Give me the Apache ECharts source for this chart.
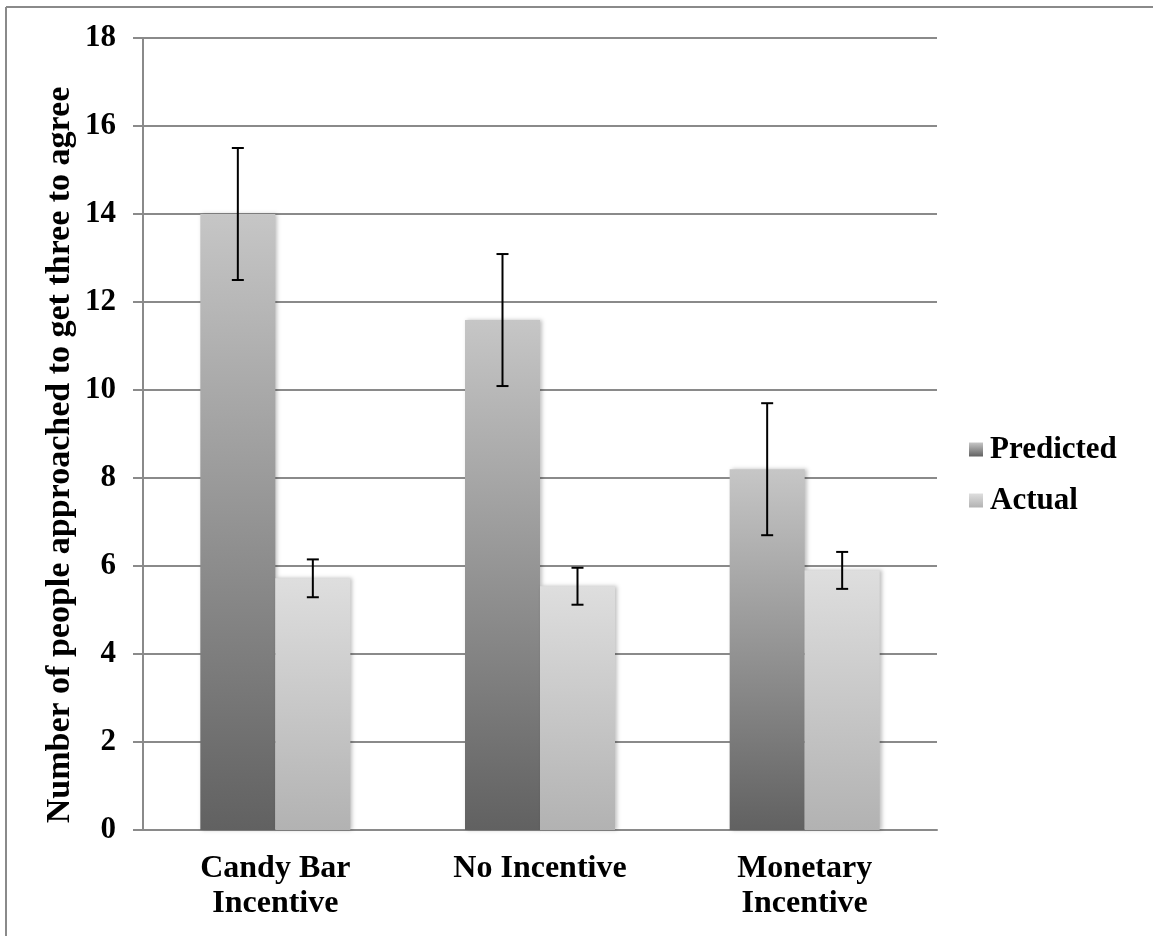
<!DOCTYPE html>
<html>
<head>
<meta charset="utf-8">
<style>
html,body{margin:0;padding:0;background:#fff;}
#chart{width:1153px;height:936px;}
</style>
<script src="https://cdn.jsdelivr.net/npm/echarts@6/dist/echarts.min.js"></script>
</head>
<body>
<div id="chart"></div>
<script>
const categories = ['Candy Bar\nIncentive', 'No Incentive', 'Monetary\nIncentive'];
const predicted = [14.0, 11.59, 8.2];
const predictedErr = [1.5, 1.5, 1.5];
const actual = [5.72, 5.54, 5.9];
const actualErr = [0.43, 0.42, 0.42];
const yTicks = [0, 2, 4, 6, 8, 10, 12, 14, 16, 18];
const yTitle = 'Number of people approached to get three to agree';

const FONT = '"Liberation Serif", "Times New Roman", serif';
const BAR_W = 75;

function errData(vals, errs) {
  return vals.map((v, i) => [i, v - errs[i], v + errs[i]]);
}

function errRender(offset) {
  return function (params, api) {
    const lo = api.coord([api.value(0), api.value(1)]);
    const hi = api.coord([api.value(0), api.value(2)]);
    const x = lo[0] + offset;
    const cap = 6;
    const style = { stroke: '#000', lineWidth: 2 };
    return {
      type: 'group',
      children: [
        { type: 'line', shape: { x1: x, y1: lo[1], x2: x, y2: hi[1] }, style },
        { type: 'line', shape: { x1: x - cap, y1: lo[1], x2: x + cap, y2: lo[1] }, style },
        { type: 'line', shape: { x1: x - cap, y1: hi[1], x2: x + cap, y2: hi[1] }, style }
      ]
    };
  };
}

const chart = echarts.init(document.getElementById('chart'), null, { renderer: 'canvas' });

const gradPred = new echarts.graphic.LinearGradient(0, 0, 0, 1, [
  { offset: 0, color: '#c6c6c6' },
  { offset: 1, color: '#616161' }
]);
const gradAct = new echarts.graphic.LinearGradient(0, 0, 0, 1, [
  { offset: 0, color: '#dedede' },
  { offset: 1, color: '#b2b2b2' }
]);

chart.setOption({
  animation: false,
  backgroundColor: '#fff',
  textStyle: { fontFamily: FONT },
  grid: { left: 143, right: 216, top: 38, bottom: 106, containLabel: false },
  legend: {
    orient: 'vertical',
    left: 964,
    top: 429,
    itemWidth: 14,
    itemHeight: 14,
    itemGap: 20,
    icon: 'rect',
    textStyle: { fontFamily: FONT, fontWeight: 'bold', fontSize: 31, color: '#000', padding: [0, 0, 0, 2] },
    data: ['Predicted', 'Actual']
  },
  xAxis: {
    type: 'category',
    data: categories,
    axisLine: { lineStyle: { color: '#8a8a8a', width: 2 } },
    axisTick: { show: false },
    axisLabel: {
      fontFamily: FONT, fontWeight: 'bold', fontSize: 32, color: '#000',
      lineHeight: 35, margin: 21, interval: 0
    }
  },
  yAxis: {
    type: 'value',
    min: 0,
    max: 18,
    interval: 2,
    axisLine: { show: true, lineStyle: { color: '#8a8a8a', width: 2 } },
    axisTick: { show: true, length: 10, lineStyle: { color: '#8a8a8a', width: 2 } },
    splitLine: { lineStyle: { color: '#8a8a8a', width: 2 } },
    axisLabel: {
      fontFamily: FONT, fontWeight: 'bold', fontSize: 31, color: '#000', margin: 27,
      formatter: v => (yTicks.indexOf(v) >= 0 ? String(v) : '')
    }
  },
  graphic: [
    {
      type: 'text',
      x: 60, y: 455,
      rotation: Math.PI / 2,
      style: {
        text: yTitle,
        fontFamily: FONT, fontWeight: 'bold', fontSize: 34, fill: '#000',
        align: 'center', verticalAlign: 'middle'
      }
    },
    { type: 'line', shape: { x1: 6, y1: 7, x2: 1153, y2: 7 }, style: { stroke: '#8a8a8a', lineWidth: 2 } },
    { type: 'line', shape: { x1: 6, y1: 7, x2: 6, y2: 936 }, style: { stroke: '#8a8a8a', lineWidth: 2 } }
  ],
  series: [
    {
      name: 'Predicted', type: 'bar', data: predicted, barWidth: BAR_W, barGap: '0%',
      itemStyle: { color: gradPred, shadowBlur: 4, shadowColor: 'rgba(0,0,0,0.25)', shadowOffsetX: 2 }
    },
    {
      name: 'Actual', type: 'bar', data: actual, barWidth: BAR_W, barGap: '0%',
      itemStyle: { color: gradAct, shadowBlur: 4, shadowColor: 'rgba(0,0,0,0.25)', shadowOffsetX: 2 }
    },
    {
      type: 'custom', name: 'PredErr', data: errData(predicted, predictedErr),
      renderItem: errRender(-BAR_W / 2), encode: { x: 0, y: [1, 2] }, z: 10, silent: true
    },
    {
      type: 'custom', name: 'ActErr', data: errData(actual, actualErr),
      renderItem: errRender(BAR_W / 2), encode: { x: 0, y: [1, 2] }, z: 10, silent: true
    }
  ]
});
</script>
</body>
</html>
